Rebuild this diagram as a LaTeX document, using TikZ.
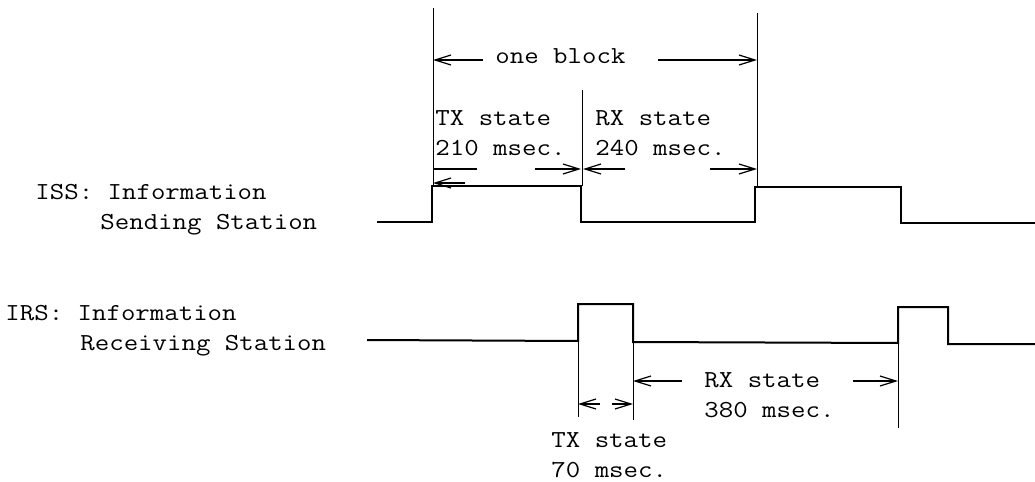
\documentclass[tikz,border=0pt]{standalone}
\usepackage{fontspec}
\setmonofont[FakeStretch=1.15]{Latin Modern Mono}
\usetikzlibrary{arrows.meta}
\tikzset{
  sig/.style={line width=1pt},
  tick/.style={line width=0.5pt},
  dim/.style={line width=0.6pt},
  lbl/.style={anchor=base west,inner sep=0pt,font=\ttfamily\fontsize{12.2}{15}\selectfont},
}

\begin{document}
\begin{tikzpicture}[x=0.5pt,y=-0.5pt,>={Straight Barb[length=8pt,width=5pt]}]
\useasboundingbox (0,0) rectangle (1035,482);
% station names
\node[lbl] (issA) at (35,199) {ISS: Information};
\node[lbl] (issB) at (100,229) {Sending Station};
\node[lbl] (irsA) at (5,320) {IRS: Information};
\node[lbl] (irsB) at (80,350) {Receiving Station};
% ISS signal
\draw[sig](377,222)--(432,222)--(432,186)--(581,186)--(581,222)--(755,222)--(755,187)--(901,187)--(901,223)--(1035,223);
% IRS signal
\draw[sig](367,340)--(578,341)--(578,304)--(633,304)--(633,342)--(898,343)--(898,307)--(948,307)--(948,344)--(1035,344);
% block limits
\draw[tick](433,8)--(433,186);
\draw[tick](582,90)--(582,186);
\draw[tick](757,13)--(757,187);
\draw[tick](578,341)--(578,417);
\draw[tick](633,342)--(633,420);
\draw[tick](898,343)--(898,428);
% one block
\node[lbl] (blk) at (495,63) {one block};
\draw[dim,->](483,60)--(433,60);
\draw[dim,->](658,60)--(757,60);
% ISS states
\node[lbl] (txA) at (435,125) {TX state};
\node[lbl] (txB) at (435,155) {210 msec.};
\node[lbl] (rxA) at (595,125) {RX state};
\node[lbl] (rxB) at (595,155) {240 msec.};
\draw[dim](433,169)--(477,169);
\draw[dim,->](465,183)--(433,183);
\draw[dim,->](535,169)--(581,169);
\draw[dim,->](625,169)--(583,169);
\draw[dim,->](710,169)--(757,169);
% IRS states
\node[lbl] (rxC) at (704,387) {RX state};
\node[lbl] (rxD) at (704,417) {380 msec.};
\node[lbl] (txC) at (551,447) {TX state};
\node[lbl] (txD) at (551,477) {70 msec.};
\draw[dim,->](682,381)--(633,381);
\draw[dim,->](853,381)--(898,381);
\draw[dim,->](600,404)--(578,404);
\draw[dim,->](612,404)--(633,404);
\end{tikzpicture}
\end{document}
